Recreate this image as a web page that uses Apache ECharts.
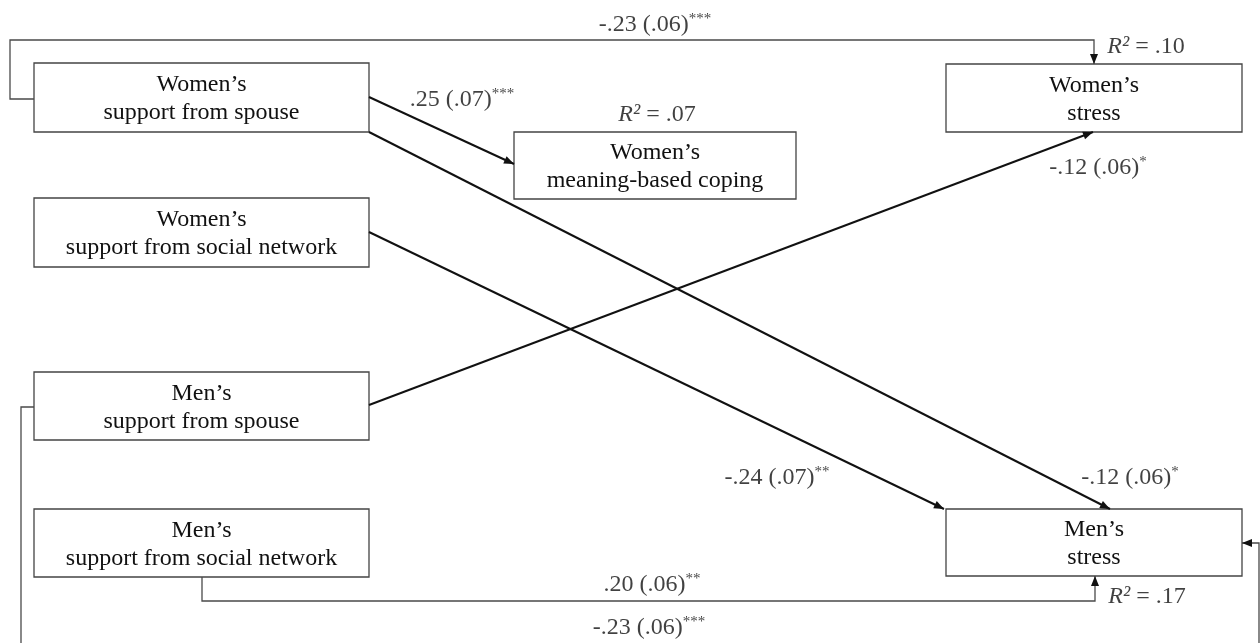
<!DOCTYPE html>
<html>
<head>
<meta charset="utf-8">
<script src="https://cdn.jsdelivr.net/npm/echarts@6/dist/echarts.min.js"></script>
<style>
  html, body { margin: 0; padding: 0; background: #fff; }
  #chart { width: 1260px; height: 643px; }
</style>
</head>
<body>
<div id="chart"></div>
<script>
// boxes of the path model: label and corners [x0, y0, x1, y1] in diagram units
const boxLabels = [
    "Women’s\nsupport from spouse",
    "Women’s\nsupport from social network",
    "Men’s\nsupport from spouse",
    "Men’s\nsupport from social network",
    "Women’s\nmeaning-based coping",
    "Women’s\nstress",
    "Men’s\nstress"
];
const boxCorners = [
    [34, 63, 369, 132],
    [34, 198, 369, 267],
    [34, 372, 369, 440],
    [34, 509, 369, 577],
    [514, 132, 796, 199],
    [946, 64, 1242, 132],
    [946, 509, 1242, 576]
];

// straight paths (bold arrows)
const directPaths = [
    [[369, 97], [514, 164]],
    [[369, 132], [1110, 509]],
    [[369, 232], [944, 509]],
    [[369, 405], [1093, 132]]
];
// routed paths (thin elbow connectors)
const elbowPaths = [
    [[34, 99], [10, 99], [10, 40], [1094, 40], [1094, 64]],
    [[202, 577], [202, 601], [1095, 601], [1095, 576]],
    [[34, 407], [21, 407], [21, 660], [1259, 660], [1259, 543], [1242, 543]]
];

// path coefficients: estimate (se), stars, label centre
const coefText = ["-.23 (.06)", ".25 (.07)", "-.12 (.06)", "-.24 (.07)", "-.12 (.06)", ".20 (.06)", "-.23 (.06)"];
const coefStars = ["***", "***", "*", "**", "*", "**", "***"];
const coefPos = [[655, 25], [462, 100], [1098, 168], [777, 478], [1130, 478], [652, 585], [649, 628]];

// explained variance labels
const r2Text = [".10", ".07", ".17"];
const r2Pos = [[1146, 47], [657, 115], [1147, 597]];

const serif = "'Liberation Serif', 'Times New Roman', serif";

// last segment of every path gets an arrow head
let arrowSegs = directPaths.concat(elbowPaths).map(p => {
    let a = p[p.length - 2], b = p[p.length - 1];
    return [a[0], a[1], b[0], b[1]];
});

let chart = echarts.init(document.getElementById("chart"));

let option = {
    animation: false,
    backgroundColor: "#fff",
    grid: { left: 0, right: 0, top: 0, bottom: 0 },
    xAxis: { type: "value", min: 0, max: 1260, show: false },
    yAxis: { type: "value", min: 0, max: 643, inverse: true, show: false },
    series: [
        {
            type: "lines",
            coordinateSystem: "cartesian2d",
            polyline: true,
            lineStyle: { color: "#4a4a4a", width: 1.3, opacity: 1 },
            data: elbowPaths.map(p => ({ coords: p })),
            z: 4
        },
        {
            type: "lines",
            coordinateSystem: "cartesian2d",
            lineStyle: { color: "#111", width: 2, opacity: 1 },
            data: directPaths.map(p => ({ coords: p })),
            z: 4
        },
        {
            // arrow heads, tip sitting on the end point
            type: "custom",
            coordinateSystem: "cartesian2d",
            data: arrowSegs,
            z: 5,
            renderItem: function (params, api) {
                let a = api.coord([api.value(0), api.value(1)]);
                let b = api.coord([api.value(2), api.value(3)]);
                let dx = b[0] - a[0], dy = b[1] - a[1];
                let len = Math.sqrt(dx * dx + dy * dy);
                let ux = dx / len, uy = dy / len;
                let L = 10, W = 4;
                let bx = b[0] - ux * L, by = b[1] - uy * L;
                return {
                    type: "polygon",
                    shape: { points: [[b[0], b[1]], [bx - uy * W, by + ux * W], [bx + uy * W, by - ux * W]] },
                    style: { fill: "#111" }
                };
            }
        },
        {
            type: "custom",
            coordinateSystem: "cartesian2d",
            data: boxCorners,
            z: 3,
            renderItem: function (params, api) {
                let p0 = api.coord([api.value(0), api.value(1)]);
                let p1 = api.coord([api.value(2), api.value(3)]);
                return {
                    type: "group",
                    children: [
                        {
                            type: "rect",
                            shape: { x: p0[0], y: p0[1], width: p1[0] - p0[0], height: p1[1] - p0[1] },
                            style: { fill: "#fff", stroke: "#444", lineWidth: 1.3 }
                        },
                        {
                            type: "text",
                            style: {
                                x: (p0[0] + p1[0]) / 2,
                                y: (p0[1] + p1[1]) / 2 + 1.5,
                                text: boxLabels[params.dataIndex],
                                align: "center",
                                verticalAlign: "middle",
                                fontFamily: serif,
                                fontSize: 24,
                                lineHeight: 28,
                                fill: "#111"
                            }
                        }
                    ]
                };
            }
        },
        {
            type: "scatter",
            symbolSize: 0,
            z: 6,
            data: coefPos.map((p, i) => ({ value: p, name: coefText[i], stars: coefStars[i] })),
            label: {
                show: true,
                position: "inside",
                formatter: function (params) {
                    return "{v|" + params.data.name + "}{s|" + params.data.stars + "}";
                },
                rich: {
                    v: { fontFamily: serif, fontSize: 24, lineHeight: 26, color: "#111" },
                    s: { fontFamily: serif, fontSize: 15, lineHeight: 13, verticalAlign: "top", color: "#111" }
                }
            }
        },
        {
            type: "scatter",
            symbolSize: 0,
            z: 6,
            data: r2Pos.map((p, i) => ({ value: p, name: r2Text[i] })),
            label: {
                show: true,
                position: "inside",
                formatter: function (params) {
                    return "{i|R²}{v| = " + params.data.name + "}";
                },
                rich: {
                    i: { fontFamily: serif, fontSize: 24, fontStyle: "italic", lineHeight: 26, color: "#111" },
                    v: { fontFamily: serif, fontSize: 24, lineHeight: 26, color: "#111" }
                }
            }
        }
    ]
};

chart.setOption(option);
</script>
</body>
</html>
